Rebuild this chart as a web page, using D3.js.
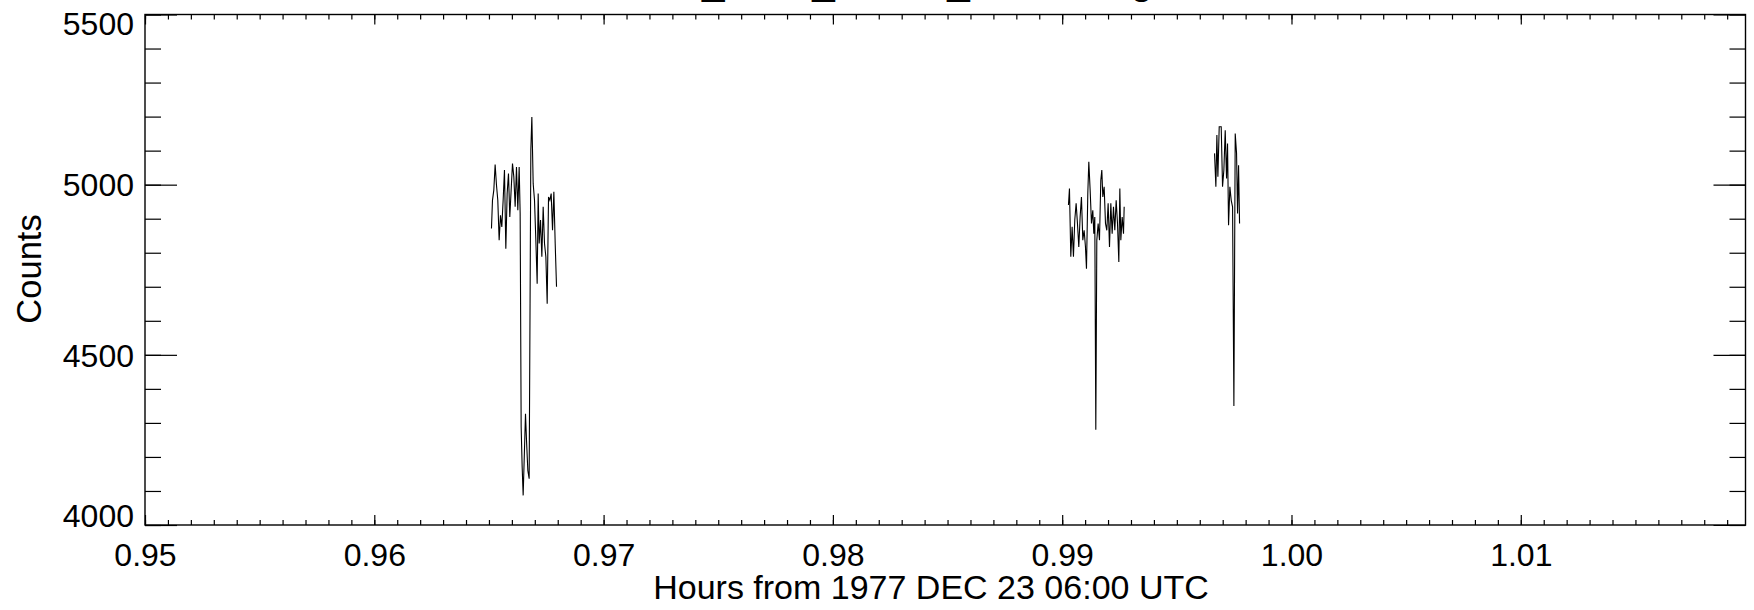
<!DOCTYPE html>
<html>
<head>
<meta charset="utf-8">
<script src="https://cdn.jsdelivr.net/npm/d3@7"></script>
<style>
  body { margin: 0; background: #fff; }
  text { font-family: "Liberation Sans", Arial, Helvetica, sans-serif; fill: #000; }
</style>
</head>
<body>
<div id="canvas"></div>
<script>
// chart data
const chartTitle = "VG1_RDR_SCAN_RATE Avg";
const xTitle = "Hours from 1977 DEC 23 06:00 UTC";
const yTitle = "Counts";

const xTicks = [0.95, 0.96, 0.97, 0.98, 0.99, 1.00, 1.01];
const yTicks = [4000, 4500, 5000, 5500];

// first burst
const hours1 = [0.965110, 0.965154, 0.965212, 0.965270, 0.965328, 0.965386, 0.965445, 0.965503,
  0.965561, 0.965619, 0.965677, 0.965736, 0.965794, 0.965852, 0.965910, 0.965968, 0.966027,
  0.966085, 0.966143, 0.966201, 0.966259, 0.966318, 0.966361, 0.966405, 0.966449, 0.966492,
  0.966536, 0.966594, 0.966638, 0.966696, 0.966754, 0.966827, 0.966871, 0.966929, 0.966987,
  0.967045, 0.967103, 0.967147, 0.967191, 0.967249, 0.967307, 0.967365, 0.967423, 0.967482,
  0.967540, 0.967598, 0.967656, 0.967714, 0.967773, 0.967831, 0.967889, 0.967947];
const counts1 = [4871, 4954, 4984, 5059, 4999, 4954, 4837, 4910,
  4876, 4954, 5043, 4812, 4974, 5033, 4905, 4984, 5062,
  5023, 4935, 5052, 4925, 5052, 4915, 4288, 4170, 4087,
  4190, 4327, 4249, 4160, 4136, 5102, 5199, 5003, 4954,
  4837, 4709, 4974, 4827, 4896, 4788, 4935, 4827, 4788,
  4650, 4964, 4954, 4974, 4866, 4979, 4827, 4700];

// second burst
const hours2 = [0.990273, 0.990317, 0.990375, 0.990433, 0.990491, 0.990549, 0.990608, 0.990666,
  0.990724, 0.990782, 0.990840, 0.990899, 0.990957, 0.991015, 0.991059, 0.991117, 0.991161,
  0.991219, 0.991277, 0.991335, 0.991379, 0.991422, 0.991466, 0.991510, 0.991568, 0.991626,
  0.991684, 0.991728, 0.991772, 0.991830, 0.991888, 0.991946, 0.992004, 0.992063, 0.992121,
  0.992179, 0.992237, 0.992295, 0.992354, 0.992412, 0.992470, 0.992514, 0.992557, 0.992616,
  0.992674, 0.992703];
const counts2 = [4940, 4989, 4788, 4876, 4788, 4896, 4945, 4886,
  4817, 4905, 4964, 4837, 4866, 4817, 4753, 4974, 5067,
  4984, 4886, 4925, 4856, 4905, 4280, 4837, 4886, 4837,
  5013, 5043, 4964, 4994, 4886, 4866, 4945, 4817, 4945,
  4856, 4935, 4866, 4954, 4886, 4773, 4989, 4837, 4905,
  4856, 4935];

// third burst
const hours3 = [0.996644, 0.996702, 0.996746, 0.996790, 0.996848, 0.996935, 0.996993, 0.997051,
  0.997110, 0.997168, 0.997211, 0.997255, 0.997313, 0.997372, 0.997430, 0.997488, 0.997546,
  0.997604, 0.997648, 0.997692, 0.997735];
const counts3 = [5092, 4994, 5146, 5023, 5170, 5170, 4994, 5043,
  5160, 5018, 5121, 4881, 4994, 4954, 4935, 4350, 5150,
  5092, 4915, 5057, 4886];

const width = 1754;
const height = 610;
const margin = { top: 14.5, left: 145, bottom: 85, right: 8.5 };
const iwidth = width - margin.left - margin.right;
const iheight = height - margin.top - margin.bottom;

const svg = d3.select("#canvas").append("svg")
    .attr("width", width)
    .attr("height", height);

svg.append("rect").attr("width", width).attr("height", height).style("fill", "#fff");

const x = d3.scaleLinear().domain([0.95, 1.0198]).range([0, iwidth]);
const y = d3.scaleLinear().domain([4000, 5500]).range([iheight, 0]);

const g = svg.append("g")
    .attr("transform", `translate(${margin.left}, ${margin.top})`);

const xMinor = d3.range(0.95, 1.0195, 0.001);
const yMinor = d3.range(4000, 5501, 100);

// bottom axis
g.append("g")
    .attr("transform", `translate(0, ${iheight})`)
    .call(d3.axisBottom(x).tickValues(xMinor).tickSize(-5).tickFormat(""));
const xa = g.append("g")
    .attr("transform", `translate(0, ${iheight})`)
    .call(d3.axisBottom(x).tickValues(xTicks).tickSize(-10).tickFormat(d3.format(".2f")));
xa.selectAll("text").attr("y", 40.7).attr("dy", 0).style("font-size", "32px");

// top axis
g.append("g").call(d3.axisTop(x).tickValues(xMinor).tickSize(-5).tickFormat(""));
g.append("g").call(d3.axisTop(x).tickValues(xTicks).tickSize(-10).tickFormat(""));

// left axis
g.append("g").call(d3.axisLeft(y).tickValues(yMinor).tickSize(-16).tickFormat(""));
const ya = g.append("g")
    .call(d3.axisLeft(y).tickValues(yTicks).tickSize(-32).tickFormat(d3.format("d")));
ya.selectAll("text")
    .attr("x", -11)
    .attr("dy", d => d === 5500 ? 19.5 : d === 4000 ? 1 : 11.2)
    .style("font-size", "32px");

// right axis
g.append("g").attr("transform", `translate(${iwidth}, 0)`)
    .call(d3.axisRight(y).tickValues(yMinor).tickSize(-16).tickFormat(""));
g.append("g").attr("transform", `translate(${iwidth}, 0)`)
    .call(d3.axisRight(y).tickValues(yTicks).tickSize(-32).tickFormat(""));

g.selectAll(".domain").remove();
g.selectAll(".tick line").style("stroke", "#000").style("stroke-width", 1.2);

// frame
g.append("rect")
    .attr("width", iwidth)
    .attr("height", iheight)
    .style("fill", "none")
    .style("stroke", "#000")
    .style("stroke-width", 1.4);

// data
const line = d3.line().x(d => x(d[0])).y(d => y(d[1]));
[[hours1, counts1], [hours2, counts2], [hours3, counts3]].forEach(([h, c]) => {
    g.append("path")
        .datum(h.map((t, i) => [t, c[i]]))
        .attr("d", line)
        .style("fill", "none")
        .style("stroke", "#000")
        .style("stroke-width", 1.1);
});

// titles (main title sits above the page edge, only its descenders show)
svg.append("text")
    .attr("x", 621)
    .attr("y", -6)
    .style("font-size", "40.5px")
    .text(chartTitle);

svg.append("text")
    .attr("x", 931)
    .attr("y", 599)
    .attr("text-anchor", "middle")
    .style("font-size", "34px")
    .text(xTitle);

svg.append("text")
    .attr("transform", "translate(41, 269) rotate(-90)")
    .attr("text-anchor", "middle")
    .style("font-size", "34.5px")
    .text(yTitle);
</script>
</body>
</html>
